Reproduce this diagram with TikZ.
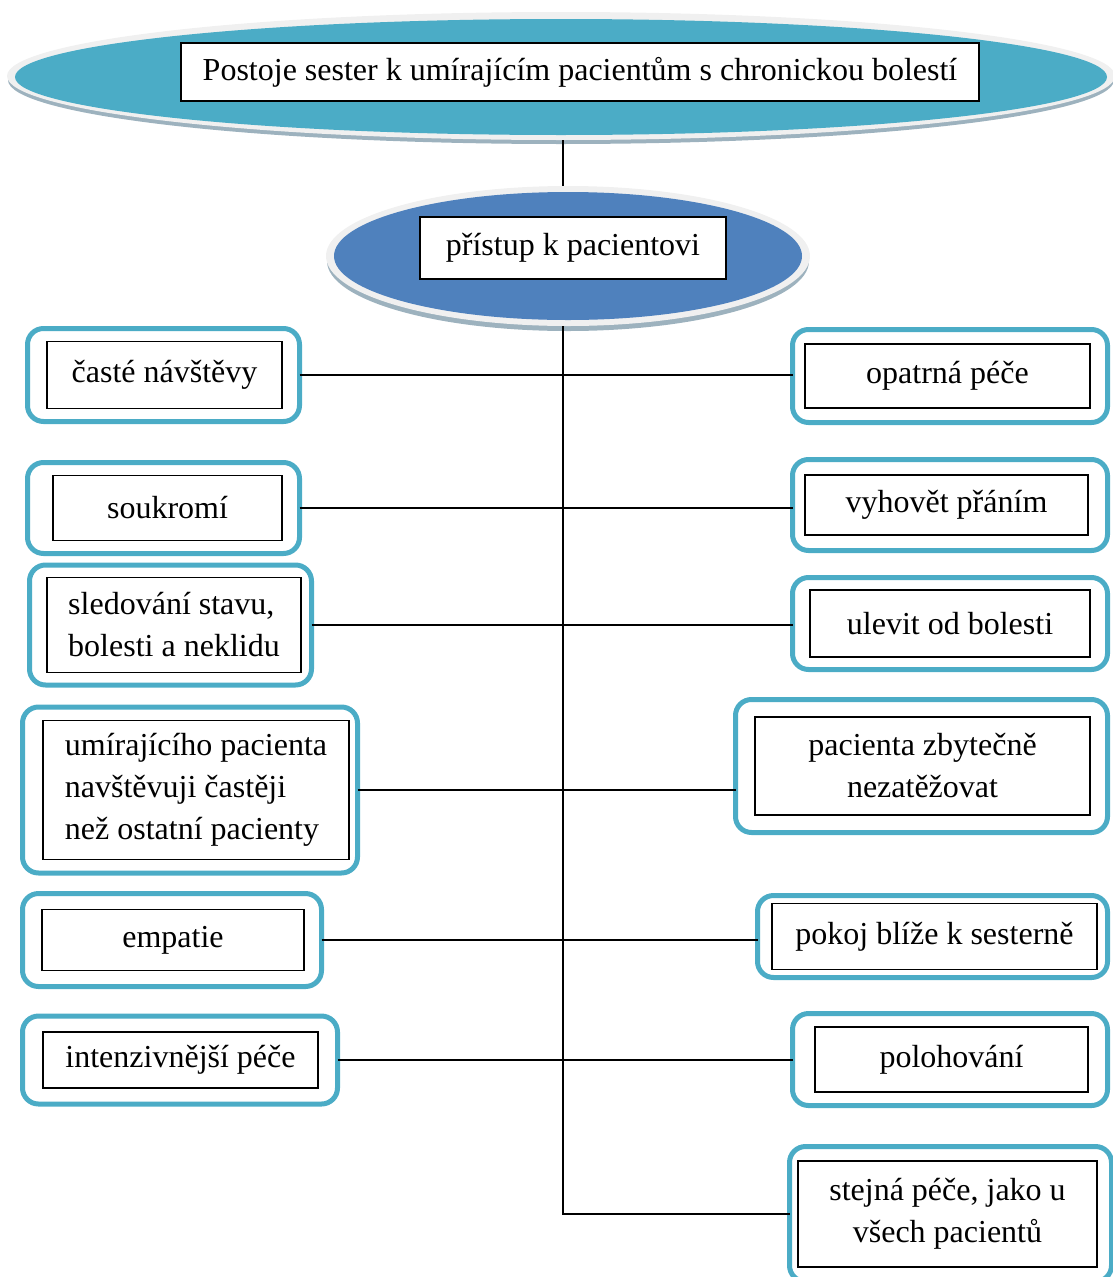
\documentclass[tikz,border=0pt]{standalone}
\usepackage{fontspec}
\setmainfont{Liberation Serif}
\usetikzlibrary{shapes.geometric}
\definecolor{topblue}{HTML}{4BACC6}
\definecolor{midblue}{HTML}{4F81BD}
\definecolor{ringgray}{HTML}{F0F0F0}
\definecolor{shadowgray}{HTML}{9DB2BE}
\tikzset{
  x=1pt, y=-1pt,
  frame/.style={draw=topblue, line width=5pt, rounded corners=16pt, fill=white,
                inner sep=0pt, outer sep=0pt},
  label/.style={draw=black, line width=1.6pt, fill=white, inner sep=0pt,
                align=center, font=\fontsize{32}{42}\selectfont, tagalign},
  tagalign/.style={},
  link/.style={draw=black, line width=1.8pt},
  ring/.style={ellipse, fill=ringgray, inner sep=0pt},
  core/.style={ellipse, inner sep=0pt},
}
\newcommand\tag[9]{%
  % #1 name, #2/#3 frame centre, #4/#5 frame size,
  % #6 label centre x, #7/#8 label size, #9 text
  \node[frame, minimum width=#4, minimum height=#5] (#1) at (#2,#3) {};
  \node[label, minimum width=#7, minimum height=#8] (#1t) at (#6,#3) {#9};
}
\begin{document}
\begin{tikzpicture}
\useasboundingbox (0,0) rectangle (1113,1277);

% top ellipse with light ring and soft shadow
\fill[shadowgray] (561,80) ellipse [x radius=553, y radius=64];
\node[ring, minimum width=1108, minimum height=128] (top) at (561,76) {};
\node[core, fill=topblue, minimum width=1092, minimum height=116] at (561,77) {};
\node[label, minimum width=798, minimum height=58] (toptxt) at (580,72)
  {Postoje sester k umírajícím pacientům s chronickou bolestí};

% second ellipse
\fill[shadowgray] (568,261) ellipse [x radius=241, y radius=70];
\node[ring, minimum width=484, minimum height=140] (mid) at (568,256) {};
\node[core, fill=midblue, minimum width=468, minimum height=128] at (568,256) {};
\node[label, minimum width=306, minimum height=62] (midtxt) at (573,248)
  {přístup k pacientovi};

% left column
\tag{L1}{163.5}{375}{272}{93}{164.5}{235}{67}{časté návštěvy}
\tag{L2}{163.5}{508}{272}{91}{167.5}{229}{65}{soukromí}
\begin{scope}[tagalign/.style={align=left}]
\tag{L3}{170.5}{625}{282}{120}{174}{254}{95}{sledování stavu,\\bolesti a neklidu}
\tag{L4}{190}{790}{335}{166}{196}{306}{139}{umírajícího pacienta\\navštěvuji častěji\\než ostatní pacienty}
\end{scope}
\tag{L5}{172}{940}{299}{93}{173}{262}{61}{empatie}
\tag{L6}{180}{1060}{315}{88}{180.5}{275}{56}{intenzivnější péče}

% right column
\tag{R1}{950}{376}{315}{93}{947.5}{285}{64}{opatrná péče}
\tag{R2}{950}{505}{315}{91}{946.5}{283}{60}{vyhovět přáním}
\tag{R3}{950}{623.5}{315}{92}{950}{280}{67}{ulevit od bolesti}
\tag{R4}{921.5}{766}{372}{133}{922.5}{335}{98}{pacienta zbytečně\\nezatěžovat}
\tag{R5}{932.5}{936.5}{350}{82}{934.5}{325}{66}{pokoj blíže k sesterně}
\tag{R6}{950}{1059.5}{315}{92}{951.5}{273}{65}{polohování}
\tag{R7}{950.5}{1214}{322}{135}{947.5}{299}{106}{stejná péče, jako u\\všech pacientů}

% spine and branches
\coordinate (spine) at (563,0);
\draw[link] (top.south -| spine) -- (mid.north -| spine);
\draw[link] (mid.south -| spine) -- (spine |- R7.west) -- (R7.west);
\foreach \n in {1,...,6}{
  \draw[link] (L\n.east) -- (L\n.east -| R\n.west);
}
\end{tikzpicture}
\end{document}
